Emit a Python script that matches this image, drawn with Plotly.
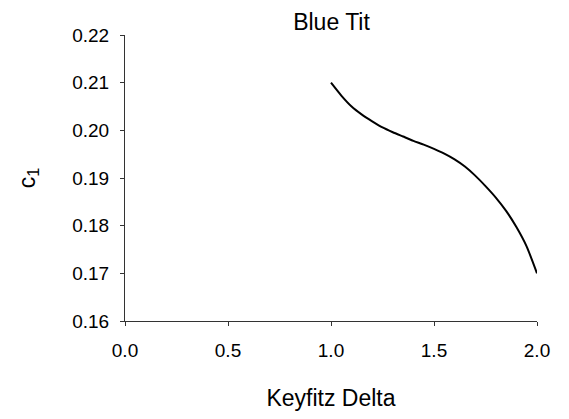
import plotly.graph_objects as go

# Keyfitz delta vs. c1 for the blue tit
keyfitz_delta = [1.00, 1.05, 1.10, 1.15, 1.20, 1.25, 1.30, 1.35, 1.40, 1.45, 1.50,
                 1.55, 1.60, 1.65, 1.70, 1.75, 1.80, 1.85, 1.90, 1.95, 2.00]
c1_values = [0.2100, 0.2073, 0.2050, 0.2033, 0.2019, 0.2006, 0.1996, 0.1987,
             0.1978, 0.1970, 0.1961, 0.1951, 0.1939, 0.1924, 0.1905, 0.1883,
             0.1859, 0.1831, 0.1797, 0.1756, 0.1700]

x_ticks = [0.0, 0.5, 1.0, 1.5, 2.0]
y_ticks = [0.16, 0.17, 0.18, 0.19, 0.20, 0.21, 0.22]

FONT = "Liberation Sans, Arial, sans-serif"
AXIS_COLOR = "#333333"

fig = go.Figure(
    go.Scatter(
        x=keyfitz_delta,
        y=c1_values,
        mode="lines",
        line=dict(color="black", width=2, shape="spline", smoothing=0.6),
        showlegend=False,
    )
)

fig.update_layout(
    width=569,
    height=419,
    margin=dict(l=125, r=32, t=35, b=95),
    paper_bgcolor="white",
    plot_bgcolor="white",
    font=dict(family=FONT, size=19, color="black"),
    title=dict(
        text="Blue Tit",
        x=331.5 / 569,
        xanchor="center",
        y=1 - 22 / 419,
        yanchor="middle",
        yref="container",
        font=dict(family=FONT, size=23, color="black"),
    ),
)

fig.update_xaxes(
    range=[0, 2.0],
    tickvals=x_ticks,
    ticktext=[f"{v:.1f}" for v in x_ticks],
    showgrid=False,
    zeroline=False,
    showline=True,
    linecolor=AXIS_COLOR,
    linewidth=1,
    ticks="outside",
    ticklen=4,
    tickcolor=AXIS_COLOR,
    ticklabelstandoff=8,
    title=dict(text="Keyfitz Delta", font=dict(size=23), standoff=30),
)

fig.update_yaxes(
    range=[0.16, 0.22],
    tickvals=y_ticks,
    ticktext=[f"{v:.2f}" for v in y_ticks],
    showgrid=False,
    zeroline=False,
    showline=True,
    linecolor=AXIS_COLOR,
    linewidth=1,
    ticks="outside",
    ticklen=4,
    tickcolor=AXIS_COLOR,
    ticklabelstandoff=7,
    title=dict(text="c<sub>1</sub>", font=dict(size=23), standoff=30),
)

fig.write_html("out.html")
